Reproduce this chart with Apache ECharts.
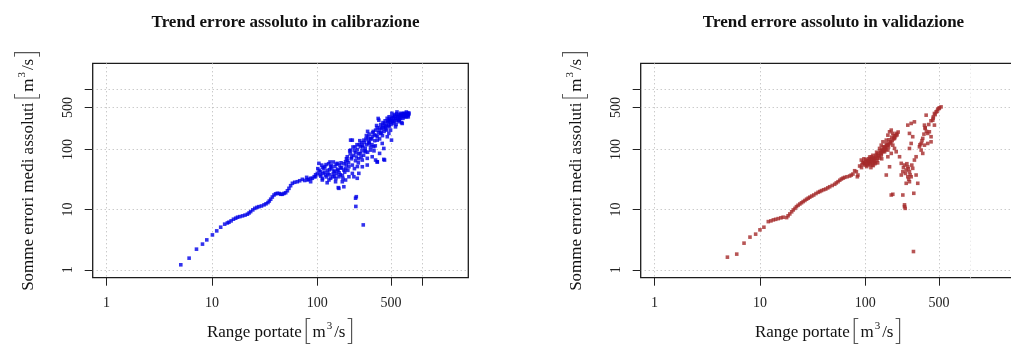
<!DOCTYPE html>
<html>
<head>
<meta charset="utf-8">
<script src="https://cdn.jsdelivr.net/npm/echarts@6/dist/echarts.min.js"></script>
<style>
  html, body { margin: 0; padding: 0; background: #fff; }
  #chart { width: 1011px; height: 344px; }
</style>
</head>
<body>
<div id="chart"></div>
<script>
// Calibration: discharge range [m3/s] vs. sum of mean absolute errors [m3/s]
const calQ = [
  5.06, 6.07, 7.13, 8.13, 8.93, 10.1, 11.1, 12.1, 13.2, 14.0, 14.5, 15.2, 16.0, 16.8, 17.5, 18.4, 19.5, 20.6, 21.7, 22.5,
  23.3, 24.4, 25.5, 26.7, 27.9, 29.5, 31.2, 32.6, 34.0, 35.0, 36.1, 37.4, 38.8, 40.2, 41.8, 43.5, 45.0, 46.6, 48.3, 50.1,
  52.0, 53.8, 55.8, 58.0, 61.0, 64.6, 68.0, 72.1, 75.8, 79.2, 82.5, 86.4, 89.7, 93.3, 96.3, 100,
  80.4, 103.5, 107.4, 115.6, 119.9, 128.9, 133.7, 143.6, 154.8, 160.3, 160.3, 172.6, 178.6, 185.4, 192.3, 199.5, 207, 214.8,
  222.3, 239.4, 230.7, 234.4, 232, 272.9, 247.7, 257, 267.3, 276.7, 287.1, 297.8, 308.3, 319.9, 331.9, 343.6, 357.3, 370.7,
  370.7, 383.7, 378, 398.1, 413, 434.5, 443.6, 461.3, 477.5, 495.5, 505.8, 514, 532.1, 552.1, 593.2, 616.6, 639.7, 662.2,
  687.1, 712.9, 729.5, 738, 552.1, 477.5, 427.6, 389.9, 331.9, 297.8, 267.3, 247.7, 199.5, 185.4, 178.6, 149, 133.7, 111.5,
  96.3, 86.4, 158, 427.6, 370.7, 207, 357.3,
  113, 118, 125, 130, 137, 140, 147, 152, 157, 165, 170, 175, 182, 188, 195, 110, 122, 150, 163, 104, 108, 128, 142,
  210, 215, 220, 225, 230, 235, 240, 245, 250, 255, 260, 265, 270, 275, 280, 285, 290, 295, 300, 305, 205, 228, 262, 215, 225, 240,
  310, 320, 330, 340, 350, 360, 370, 380, 390, 400, 410, 420, 430, 440, 450, 460, 470, 480, 490, 500, 320, 345, 365, 415, 455,
  480, 300, 520, 540, 560, 580, 600, 620, 650, 680, 700, 720, 740, 630, 570, 510, 660,
  101, 106, 112, 117, 121, 126, 131, 136, 141, 146, 151, 156, 161, 167, 173, 179, 186, 193, 198, 112, 132, 146, 168, 189, 124,
  203, 212, 218, 232, 238, 247, 253, 268, 283, 292, 303, 312, 325, 335, 348, 355, 372, 385, 395, 405, 418, 425, 435, 445, 465,
  475, 485, 495, 505, 515,
  525, 535, 545, 555, 565, 575, 585, 595, 605, 615, 625, 640, 655, 670, 690, 705, 715, 730, 600, 560
];
const calErr = [
  1.21, 1.56, 2.2, 2.67, 3.14, 3.8, 4.43, 5.1, 5.73, 6.0, 6.18, 6.5, 6.93, 7.2, 7.48, 7.65, 7.87, 8.1, 8.39, 8.8,
  9.27, 9.9, 10.5, 10.9, 11.2, 11.5, 12.0, 12.5, 13.1, 13.9, 14.9, 16.2, 17.5, 18.3, 18.7, 18.5, 18.0, 18.0, 18.6, 19.1,
  20.6, 22.6, 25.0, 27.4, 28.5, 29.1, 30.2, 31.9, 30.5, 34.4, 32.0, 33.2, 33.2, 35.3, 38, 40.1,
  31.1, 58.8, 42.7, 48.6, 37.6, 31.1, 51.6, 42.7, 58.8, 35.2, 22.6, 29.1, 45.5, 62.5, 75.7, 51.6, 97.7, 143,
  35.2, 33.2, 15.5, 16.4, 11.3, 5.57, 86.1, 111, 66.7, 143, 91.6, 71.2, 126, 97.7, 163, 111, 210, 62.5,
  143, 307, 328, 185, 126, 66.7, 238, 163, 307, 210, 143, 349, 271, 328, 307, 372, 271, 397,
  349, 386, 349, 406, 238, 185, 104, 86.1, 75.7, 55.1, 51.6, 40.1, 35.2, 31.1, 24.0, 29.1, 33.2, 31.1,
  35.2, 29.1, 23.2, 68.5, 61.8, 143, 66.7,
  40, 52, 45, 38, 48, 35, 52, 40, 45, 38, 50, 33, 42, 55, 45, 55, 35, 33, 55, 45, 36, 58, 62,
  70, 55, 80, 95, 65, 75, 100, 60, 120, 85, 75, 95, 110, 80, 130, 105, 150, 120, 90, 140, 85, 110, 130, 40, 48, 52,
  180, 150, 120, 200, 140, 170, 230, 190, 150, 260, 220, 280, 200, 300, 250, 330, 280, 350, 300, 260, 110, 95, 250, 170, 210,
  240, 200, 300, 380, 300, 360, 320, 400, 330, 380, 420, 370, 390, 280, 420, 400, 350,
  48, 38, 50, 42, 56, 40, 46, 54, 39, 44, 57, 47, 41, 49, 37, 58, 48, 66, 60, 33, 62, 36, 60, 70, 28,
  95, 75, 110, 88, 120, 70, 140, 118, 95, 170, 160, 130, 150, 190, 175, 115, 165, 210, 230, 190, 250, 230, 270, 220, 290,
  250, 320, 280, 330, 290,
  340, 300, 360, 330, 390, 350, 310, 380, 350, 330, 370, 390, 360, 400, 370, 350, 400, 380, 290, 260
];

// Validation: discharge range [m3/s] vs. sum of mean absolute errors [m3/s]
const valQ = [
  4.91, 6.02, 7.06, 8.04, 9.10, 10.0, 10.9, 12.0, 12.7, 13.4, 14.1, 14.9, 15.8, 16.6, 17.9, 18.5, 19.2, 20.0, 20.7, 21.5,
  22.2, 23.0, 23.9, 24.8, 25.7, 26.7, 27.7, 28.7, 29.7, 31.0, 32.4, 34.0, 35.6, 37.0, 38.4, 40.2, 42.1, 44.0, 45.9, 48.5,
  51.2, 53.0, 55.1, 57.2, 59.3, 61.5, 63.7, 67.0, 71.0, 73.5, 76.3, 79.2, 82.2, 84.0, 85.1, 88.3, 91.6, 98.5, 102.1, 105.9,
  109.9, 114.0, 118.1, 122.5, 127.1, 131.6, 136.5, 141.6, 146.9, 152.4, 158.1, 163.7, 169.8, 176.2, 182.4, 189.3, 182.4,
  163.7, 152.4, 141.6, 163.7, 176.2, 189.3, 196.3, 158.1, 169.8, 182.4, 176.2, 227.0, 235.5, 239.0, 235.5, 288.4, 286.4,
  211.3, 219.3, 219.3, 227.0, 235.5, 244.3, 252.9, 262.4, 252.9, 262.4, 244.3, 272.3, 292.4, 281.8, 303.4, 314.5,
  252.9, 272.3, 292.4, 262.4, 281.8, 272.3, 262.4, 303.4, 326.3, 338.8, 350.8, 364.1, 369.8, 377.8, 391.0, 405.5, 420.7,
  436.5, 442.6, 452.9, 420.7, 391.0, 364.1, 338.8, 350.8, 469.9, 486.4, 504.7, 523.6, 452.9,
  95, 100, 104, 108, 112, 116, 120, 125, 130, 135, 140, 145, 150, 155, 160, 165, 170, 175, 180, 185, 190, 195, 200,
  110, 118, 128, 92, 97, 103, 115, 125, 138, 148, 158, 168, 178, 188, 198, 205,
  330, 345, 360, 370, 380, 400, 420, 440, 460, 480, 500,
  93, 96, 99, 101, 106, 109, 111, 113, 117, 119, 121, 123, 126, 129, 133, 137, 142, 144, 147, 151, 154, 157, 161, 166, 172,
  107, 113, 119, 131, 143,
  240, 248, 256, 266, 276, 230, 258
];
const valErr = [
  1.62, 1.82, 2.77, 3.49, 3.91, 4.61, 5.10, 6.32, 6.5, 6.75, 6.9, 7.09, 7.3, 7.48, 7.37, 7.9, 8.48, 9.2, 9.89, 10.5,
  11.2, 11.8, 12.4, 13.0, 13.6, 14.2, 14.9, 15.5, 16.1, 16.8, 17.5, 18.5, 19.4, 20.0, 20.7, 21.4, 22.0, 23.0, 24.0, 25.2,
  26.4, 27.8, 29.1, 30.8, 32.3, 33.4, 34.4, 35.2, 36.2, 37.5, 39.1, 44.3, 42.7, 35.2, 37.6, 53.1, 66.7, 58.8, 62.5, 55.1,
  66.7, 75.7, 62.5, 71.2, 80.7, 86.1, 104, 118, 134, 111, 143, 173, 197, 210, 185, 153, 118,
  97.7, 91.6, 80.7, 75.7, 86.1, 104, 91.6, 37.6, 51.6, 18.0, 17.5, 17.5, 11.2, 10.5, 12.0, 18.7, 2.01,
  75.7, 58.8, 37.6, 42.7, 55.1, 45.5, 51.6, 42.7, 35.2, 29.1, 27.4, 35.2, 66.7, 48.6, 37.6, 27.4,
  254, 271, 288, 185, 163, 126, 104, 75.7, 111, 126, 153, 254, 224, 372, 185, 197, 163,
  307, 349, 254, 134, 126, 118, 97.7, 86.1, 422, 468, 492, 511, 397,
  60, 55, 65, 58, 62, 55, 68, 60, 72, 78, 88, 95, 100, 105, 115, 120, 125, 130, 140, 150, 160, 170, 175,
  75, 80, 90, 50, 70, 52, 70, 78, 95, 110, 125, 145, 160, 170, 185, 195,
  120, 140, 180, 230, 200, 260, 300, 330, 380, 430, 480,
  56, 62, 58, 68, 60, 64, 57, 68, 60, 72, 64, 58, 70, 66, 80, 72, 85, 100, 92, 96, 108, 100, 118, 110, 135,
  70, 50, 54, 60, 70,
  40, 58, 48, 38, 55, 50, 32
];

// Shared log-scale ticks
const tickValues = [1, 10, 100, 500, 1000];
const labelValues = [1, 10, 100, 500];
const axisMin = 0.738;
const axisMax = 2710;

const titles = ['Trend errore assoluto in calibrazione', 'Trend errore assoluto in validazione'];
const xName = 'Range portate';
const yName = 'Somme errori medi assoluti';
const unitName = '{b|[}{t|m}{s|3}{t|/s}{b|]}';

const SERIF = 'Liberation Serif';

const nameRich = {
  t: { fontFamily: SERIF, fontSize: 17, color: '#111', lineHeight: 28, verticalAlign: 'middle', padding: [3, 1, 0, 1] },
  b: { fontFamily: 'Lato', fontWeight: 300, fontSize: 29, color: '#555', lineHeight: 28, verticalAlign: 'middle' },
  s: { fontFamily: SERIF, fontSize: 11, color: '#111', lineHeight: 11, verticalAlign: 'top', padding: [4, 1, 0, 0] }
};

function pairs(xs, ys) {
  return xs.map((v, i) => [v, ys[i]]);
}

function xAxisFor(idx, ticks) {
  return {
    type: 'log', logBase: 10, gridIndex: idx, min: axisMin, max: axisMax,
    name: '{t|' + xName + '}' + unitName,
    nameLocation: 'middle', nameGap: 39,
    nameTextStyle: { rich: nameRich },
    axisLine: { show: false },
    axisTick: { show: true, inside: false, length: 8, customValues: ticks, lineStyle: { color: '#222', width: 1 } },
    axisLabel: { customValues: labelValues, margin: 19, fontFamily: SERIF, fontSize: 14, color: '#222',
      formatter: v => String(Math.round(v)) },
    splitLine: { show: true, lineStyle: { color: '#b4b4b4', width: 1, type: [1, 3] } },
    minorTick: { show: false }, minorSplitLine: { show: false }
  };
}

function yAxisFor(idx) {
  return {
    type: 'log', logBase: 10, gridIndex: idx, min: axisMin, max: axisMax,
    name: '{t|' + yName + '}' + unitName,
    nameLocation: 'middle', nameGap: 52, nameRotate: 90,
    nameTextStyle: { rich: nameRich },
    axisLine: { show: false },
    axisTick: { show: true, inside: false, length: 8, customValues: tickValues, lineStyle: { color: '#222', width: 1 } },
    axisLabel: { customValues: labelValues, rotate: 90, margin: 17, fontFamily: SERIF, fontSize: 14, color: '#222',
      formatter: v => String(Math.round(v)) },
    splitLine: { show: true, lineStyle: { color: '#b4b4b4', width: 1, type: [1, 3] } },
    minorTick: { show: false }, minorSplitLine: { show: false }
  };
}

const gridBox = { show: true, borderColor: '#1c1c1c', borderWidth: 1.3, backgroundColor: 'transparent',
  top: 63.3, height: 214.4, width: 375.6, containLabel: false, outerBoundsMode: 'none' };

const chart = echarts.init(document.getElementById('chart'), null, { renderer: 'canvas' });
chart.setOption({
  animation: false,
  backgroundColor: '#ffffff',
  title: [
    { text: titles[0], left: 280.5, top: 9, textAlign: 'center',
      textStyle: { fontFamily: SERIF, fontWeight: 'bold', fontSize: 17, color: '#111' } },
    { text: titles[1], left: 828.5, top: 9, textAlign: 'center',
      textStyle: { fontFamily: SERIF, fontWeight: 'bold', fontSize: 17, color: '#111' } }
  ],
  grid: [
    Object.assign({}, gridBox, { left: 92.7 }),
    Object.assign({}, gridBox, { left: 640.7 })
  ],
  xAxis: [xAxisFor(0, tickValues), xAxisFor(1, labelValues)],
  yAxis: [yAxisFor(0), yAxisFor(1)],
  series: [
    {
      type: 'scatter', xAxisIndex: 0, yAxisIndex: 0,
      symbol: 'rect', symbolSize: 3.6,
      itemStyle: { color: '#0000e8' },
      data: pairs(calQ, calErr)
    },
    {
      type: 'scatter', xAxisIndex: 1, yAxisIndex: 1,
      symbol: 'rect', symbolSize: 3.6,
      itemStyle: { color: '#a52a2a' },
      data: pairs(valQ, valErr),
      markLine: {
        silent: true, symbol: 'none', label: { show: false },
        lineStyle: { color: '#e4e4e4', width: 1, type: [1, 3] },
        data: [{ xAxis: 1000 }]
      }
    }
  ]
});
</script>
</body>
</html>
